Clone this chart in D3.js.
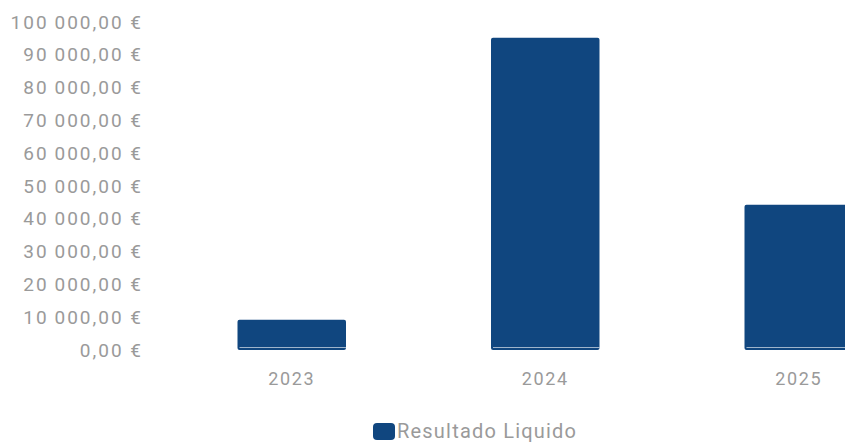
<!DOCTYPE html>
<html>
<head>
<meta charset="utf-8">
<script src="https://cdn.jsdelivr.net/npm/d3@7"></script>
<style>
  html, body { margin: 0; padding: 0; background: #ffffff; overflow: hidden; }
  svg { display: block; font-family: Roboto, "Noto Sans", sans-serif; }
</style>
</head>
<body>
<svg id="chart" width="845" height="442"></svg>
<script>
// Net result per year
const years = ["2023", "2024", "2025"];
const resultadoLiquido = [9200, 95200, 44300];
const yTicks = [0, 10000, 20000, 30000, 40000, 50000, 60000, 70000, 80000, 90000, 100000];
const seriesName = "Resultado Liquido";

const barColor = "#10467f";
const textColor = "#9a9a9a";

const svg = d3.select("#chart");

const x = d3.scaleBand()
  .domain(years)
  .range([165, 925.5])
  .paddingInner(0.572)
  .paddingOuter(0.286);

const y = d3.scaleLinear()
  .domain([0, 100000])
  .range([350, 22]);

// Portuguese currency format with thin-space grouping
const pt = d3.formatLocale({
  decimal: ",",
  thousands: "\u2009",
  grouping: [3],
  currency: ["", " €"]
});
const fmt = pt.format("$,.2f");

// Y axis labels (no domain line, no tick marks)
const yAxis = svg.append("g")
  .attr("transform", "translate(143,0)")
  .call(d3.axisLeft(y).tickValues(yTicks).tickFormat(fmt).tickSize(0).tickPadding(0));
yAxis.select(".domain").remove();
yAxis.selectAll("text")
  .attr("fill", textColor)
  .style("font-size", "19px")
  .style("letter-spacing", "2px")
  .style("font-family", "Roboto, sans-serif");

// X axis labels
const xAxis = svg.append("g")
  .attr("transform", "translate(0,372)")
  .call(d3.axisBottom(x).tickSize(0).tickPadding(0));
xAxis.select(".domain").remove();
xAxis.selectAll("text")
  .attr("fill", textColor)
  .attr("dy", "0.71em")
  .style("font-size", "18px")
  .style("letter-spacing", "1.6px")
  .style("font-family", "Roboto, sans-serif");

// Bars
svg.append("g")
  .selectAll("rect")
  .data(years.map((yr, i) => ({ yr, v: resultadoLiquido[i] })))
  .join("rect")
  .attr("x", d => x(d.yr))
  .attr("y", d => y(d.v))
  .attr("width", x.bandwidth())
  .attr("height", d => y(0) - y(d.v))
  .attr("rx", 2)
  .attr("fill", barColor);

// thin light seam near the base of each bar
svg.append("g")
  .selectAll("line")
  .data(years)
  .join("line")
  .attr("x1", d => x(d) + 2)
  .attr("x2", d => x(d) + x.bandwidth())
  .attr("y1", y(0) - 2.5)
  .attr("y2", y(0) - 2.5)
  .attr("stroke", "#ffffff")
  .attr("stroke-opacity", 0.75)
  .attr("stroke-width", 0.8);

// Legend
const legend = svg.append("g");
legend.append("rect")
  .attr("x", 373)
  .attr("y", 423)
  .attr("width", 22)
  .attr("height", 17)
  .attr("rx", 4)
  .attr("fill", barColor);
legend.append("text")
  .attr("x", 397)
  .attr("y", 438)
  .attr("fill", textColor)
  .style("font-size", "20px")
  .style("letter-spacing", "1.2px")
  .text(seriesName);
</script>
</body>
</html>
